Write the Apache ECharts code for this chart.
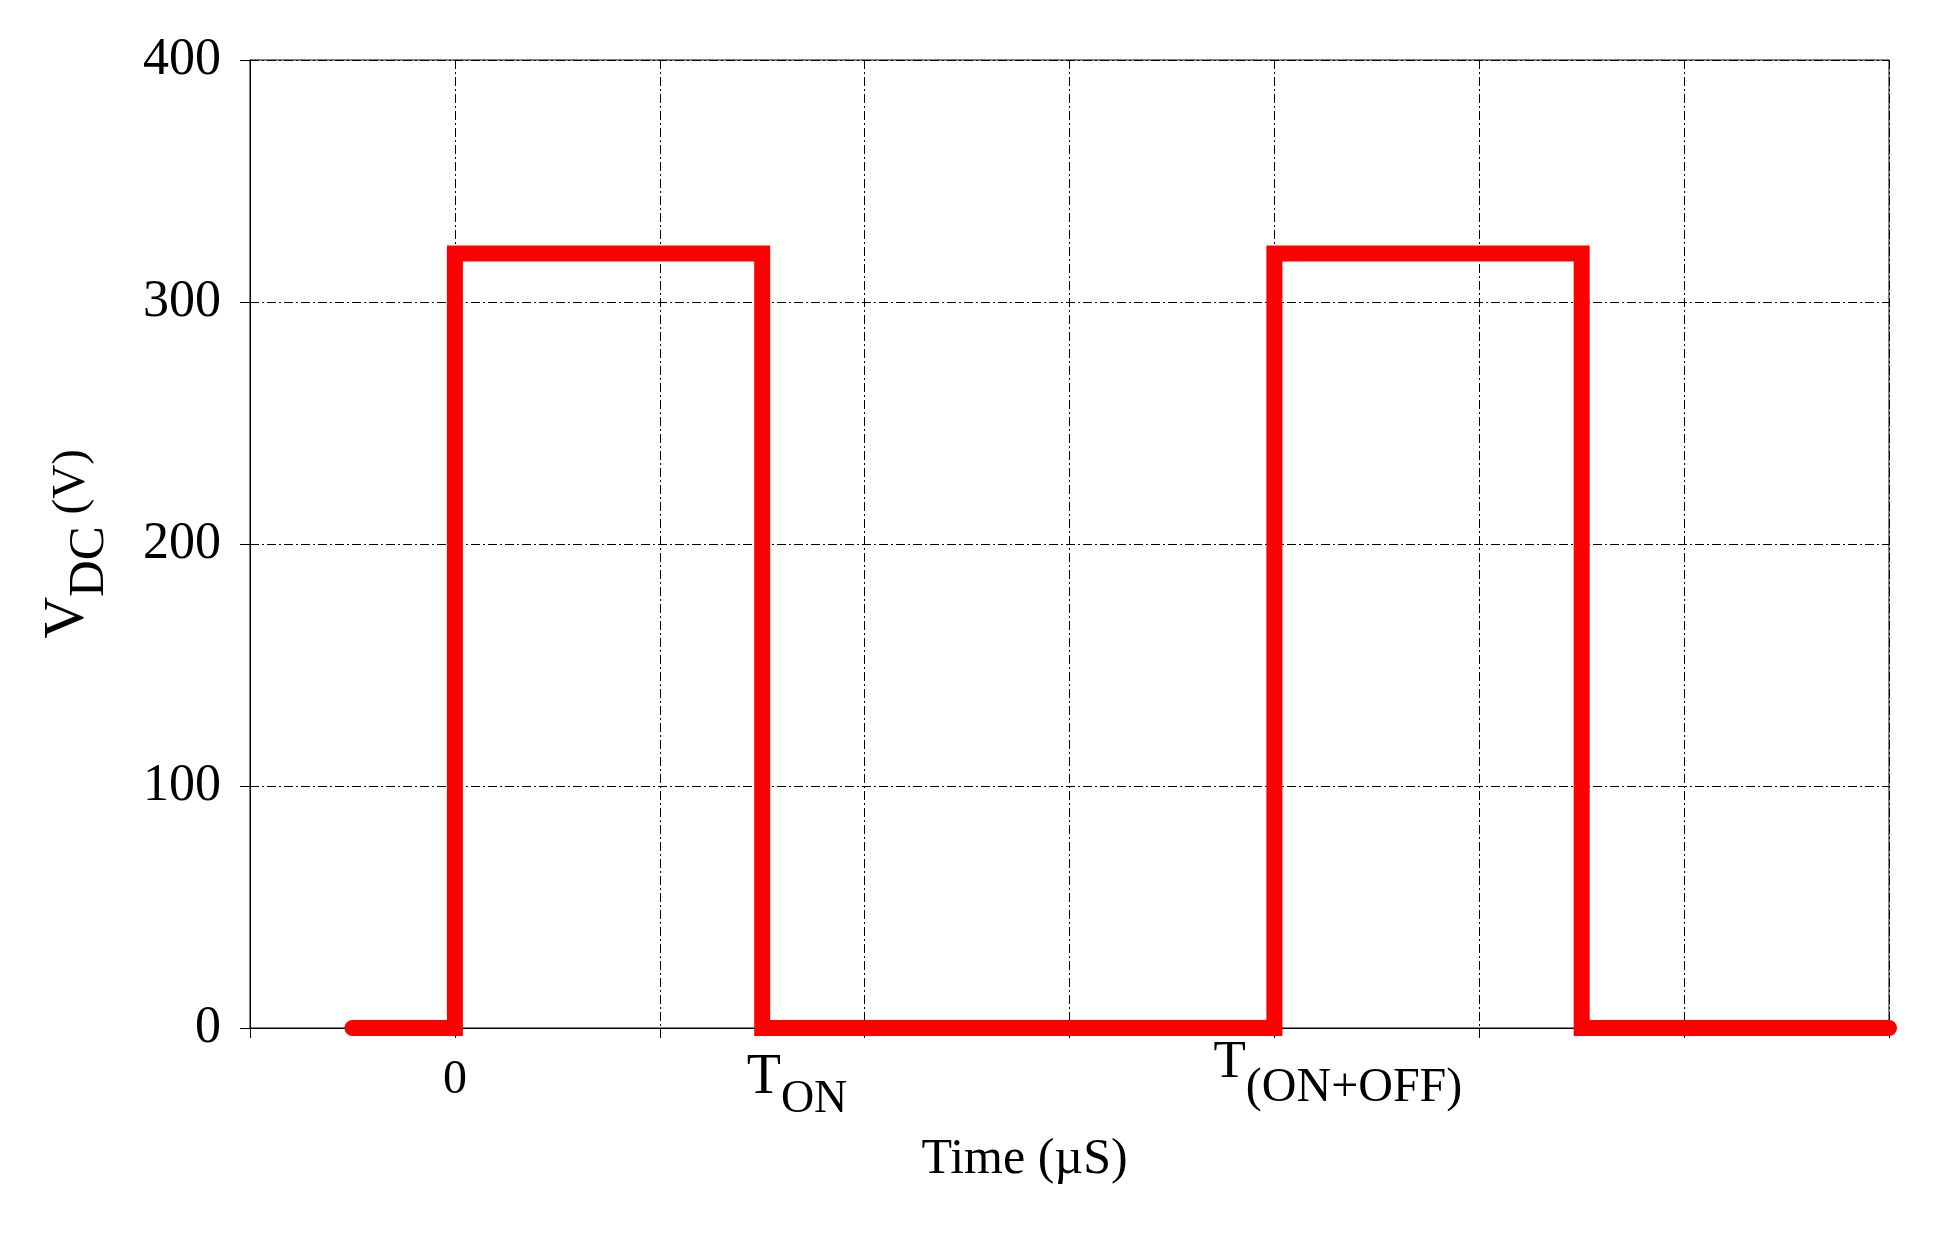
<!DOCTYPE html>
<html>
<head>
<meta charset="utf-8">
<script src="https://cdn.jsdelivr.net/npm/echarts@6/dist/echarts.min.js"></script>
<style>
  html, body { margin: 0; padding: 0; background: #ffffff; }
  #chart { width: 1945px; height: 1237px; }
</style>
</head>
<body>
<div id="chart"></div>
<script>
// ---- Data ----
const timeValues    = [0.5, 1, 1, 2.5, 2.5, 5, 5, 6.5, 6.5, 8];
const voltageValues = [0, 0, 320, 320, 0, 0, 320, 320, 0, 0];
const yTickValues   = [0, 100, 200, 300, 400];
const xTickLabelPositions = [1, 2.67, 5.31];
const xTickLabelMain = ['0', 'T', 'T'];
const xTickLabelSub  = ['', 'ON', '(ON+OFF)'];
const xAxisTitle = 'Time (µS)';
const yAxisTitleMain = 'V';
const yAxisTitleSub = 'DC';
const yAxisTitleUnit = ' (V)';

const FONT = "'Liberation Serif', 'Times New Roman', serif";
const gridDash = [9, 3, 2, 3];

const chart = echarts.init(document.getElementById('chart'), null, { renderer: 'canvas' });

const seriesData = timeValues.map((t, i) => [t, voltageValues[i]]);
const labelStyles = ['zero', 'on', 'onoff'];

// rich-text token: font size + downward shift (via top padding)
function tok(size, padTop) {
  return { fontFamily: FONT, fontSize: size, lineHeight: 40, color: '#000', padding: [padTop, 0, 0, 0] };
}

const option = {
  backgroundColor: '#ffffff',
  animation: false,
  grid: {
    left: 250, right: 56, top: 60, bottom: 209,
    show: true, borderColor: '#000000', borderWidth: 1, backgroundColor: 'transparent'
  },
  xAxis: {
    type: 'value',
    min: 0, max: 8, interval: 1,
    axisLine: { show: true, onZero: false, lineStyle: { color: '#000', width: 1 } },
    axisTick: { show: true, inside: false, length: 10, lineStyle: { color: '#000', width: 1 } },
    splitLine: { show: true, lineStyle: { color: '#000', width: 1, type: gridDash } },
    name: xAxisTitle,
    nameLocation: 'middle',
    nameGap: 107,
    nameTextStyle: { fontFamily: FONT, fontSize: 50, color: '#000', padding: [0, 90, 0, 0] },
    axisLabel: {
      show: true,
      customValues: xTickLabelPositions,
      margin: 3,
      color: '#000',
      fontFamily: FONT,
      formatter: function (value) {
        let idx = -1;
        xTickLabelPositions.forEach((p, i) => { if (Math.abs(p - value) < 1e-6) idx = i; });
        if (idx < 0) return '';
        const st = labelStyles[idx];
        if (!xTickLabelSub[idx]) return '{' + st + 'M|' + xTickLabelMain[idx] + '}';
        return '{' + st + 'M|' + xTickLabelMain[idx] + '}{' + st + 'S|' + xTickLabelSub[idx] + '}';
      },
      rich: {
        zeroM: tok(48, 59),
        onM: tok(56, 54),
        onS: tok(46, 97),
        onoffM: tok(53, 24),
        onoffS: tok(48, 75)
      }
    }
  },
  yAxis: {
    type: 'value',
    min: 0, max: 400, interval: 100,
    axisLine: { show: true, lineStyle: { color: '#000', width: 1 } },
    axisTick: { show: true, inside: false, length: 10, lineStyle: { color: '#000', width: 1 } },
    splitLine: { show: true, lineStyle: { color: '#000', width: 1, type: gridDash } },
    axisLabel: {
      margin: 29,
      color: '#000',
      fontFamily: FONT,
      fontSize: 52,
      formatter: function (v) { return yTickValues.indexOf(v) >= 0 ? String(v) : ''; }
    },
    name: '{v|' + yAxisTitleMain + '}{dc|' + yAxisTitleSub + '}{u|' + yAxisTitleUnit + '}',
    nameLocation: 'middle',
    nameRotate: 90,
    nameGap: 162,
    nameTextStyle: {
      color: '#000',
      fontFamily: FONT,
      rich: {
        v: tok(58, 0),
        dc: tok(51, 44),
        u: tok(47, 7)
      }
    }
  },
  series: [{
    type: 'line',
    data: seriesData,
    showSymbol: false,
    symbol: 'none',
    clip: false,
    z: 5,
    lineStyle: { color: '#ff0000', width: 16, cap: 'round', join: 'miter' }
  }]
};

chart.setOption(option);
</script>
</body>
</html>
